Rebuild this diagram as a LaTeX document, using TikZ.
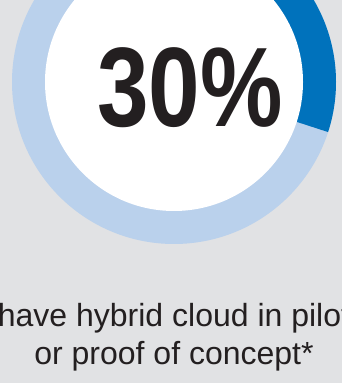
\documentclass[tikz,border=0pt]{standalone}
\usepackage{fontspec}
\setmainfont{Liberation Sans}
\newcommand*{\bigfont}{\bfseries\fontsize{113}{113}\selectfont}
\newcommand*{\capfont}{\fontsize{32}{37}\selectfont}
\definecolor{B}{RGB}{0,114,188}
\definecolor{L}{RGB}{186,209,236}
\definecolor{bg}{RGB}{225,226,228}
\definecolor{ink}{RGB}{35,31,32}
\usepackage{tikz}
\usetikzlibrary{positioning}
\tikzstyle{base}=[x=1pt, y=1pt, inner sep=0pt, outer sep=0pt]

\begin{document}
\begin{tikzpicture}[base]
    \fill [bg] (0,0) rectangle (342,383);
    \path [use as bounding box] (0,0) rectangle (342,383);
    \clip (0,0) rectangle (342,383);
    \coordinate (c) at (174,301);
    \fill [L] (c) circle (162);
    \fill [B] (c) -- ++(90:162) arc (90:-18:162) -- cycle;
    \fill [white] (c) circle (129);
    \node [ink, anchor=base] (pct) at (190,256) {\scalebox{0.82}[1]{\bigfont 30\%}};
    \node [ink, anchor=base] (pilot) at (174,56) {\capfont have hybrid cloud in pilot};
    \node [ink, below=37pt of pilot.base, anchor=base] (concept) {\capfont or proof of concept*};
\end{tikzpicture}
\end{document}
